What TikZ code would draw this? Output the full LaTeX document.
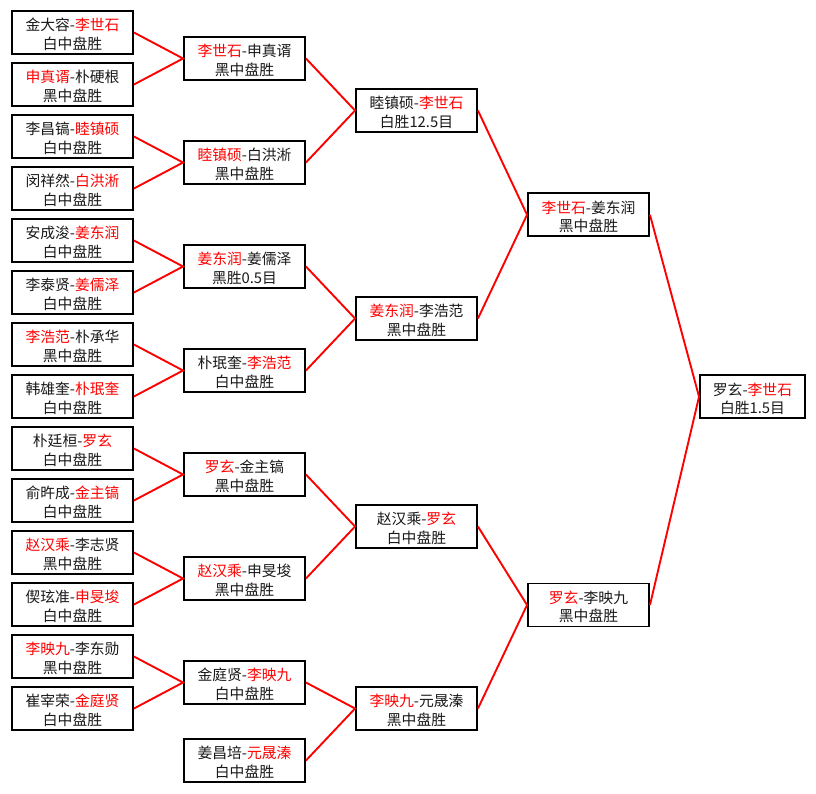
\documentclass[tikz,border=0pt]{standalone}
\usepackage{fontspec}
\setmainfont{Noto Sans CJK SC}
\newcommand{\winr}[1]{\textcolor{red}{#1}}
\newcommand{\twol}[2]{\raisebox{-4pt}[\height][\depth]{\begin{tabular}{@{}c@{}}#1\\#2\end{tabular}}}
\begin{document}
\begin{tikzpicture}[x=1pt,y=-1pt,
  res/.style={draw=black, line width=1.9pt, fill=white, minimum width=121pt,
    minimum height=43pt, inner sep=0pt,
    font=\fontsize{14.8pt}{18.5pt}\selectfont, text=black!90},
  link/.style={draw=red, line width=1.9pt}]
\useasboundingbox (0,0) rectangle (816,793);
% column 1
\node[res] (a0)  at (72.5, 32.5)  {\twol{金大容-\winr{李世石}}{白中盘胜}};
\node[res] (a1)  at (72.5, 84.5)  {\twol{\winr{申真谞}-朴硬根}{黑中盘胜}};
\node[res] (a2)  at (72.5,136.5)  {\twol{李昌镐-\winr{睦镇硕}}{白中盘胜}};
\node[res] (a3)  at (72.5,188.5)  {\twol{闵祥然-\winr{白洪淅}}{白中盘胜}};
\node[res] (a4)  at (72.5,240.5)  {\twol{安成浚-\winr{姜东润}}{白中盘胜}};
\node[res] (a5)  at (72.5,292.5)  {\twol{李泰贤-\winr{姜儒泽}}{白中盘胜}};
\node[res] (a6)  at (72.5,344.5)  {\twol{\winr{李浩范}-朴承华}{黑中盘胜}};
\node[res] (a7)  at (72.5,396.5)  {\twol{韩雄奎-\winr{朴珉奎}}{白中盘胜}};
\node[res] (a8)  at (72.5,448.5)  {\twol{朴廷桓-\winr{罗玄}}{白中盘胜}};
\node[res] (a9)  at (72.5,500.5)  {\twol{俞旿成-\winr{金主镐}}{白中盘胜}};
\node[res] (a10) at (72.5,552.5)  {\twol{\winr{赵汉乘}-李志贤}{黑中盘胜}};
\node[res] (a11) at (72.5,604.5)  {\twol{偰玹准-\winr{申旻埈}}{白中盘胜}};
\node[res] (a12) at (72.5,656.5)  {\twol{\winr{李映九}-李东勋}{黑中盘胜}};
\node[res] (a13) at (72.5,708.5)  {\twol{崔宰荣-\winr{金庭贤}}{白中盘胜}};
% column 2
\node[res] (b0) at (244.5, 58.5) {\twol{\winr{李世石}-申真谞}{黑中盘胜}};
\node[res] (b1) at (244.5,162.5) {\twol{\winr{睦镇硕}-白洪淅}{黑中盘胜}};
\node[res] (b2) at (244.5,266.5) {\twol{\winr{姜东润}-姜儒泽}{黑胜0.5目}};
\node[res] (b3) at (244.5,370.5) {\twol{朴珉奎-\winr{李浩范}}{白中盘胜}};
\node[res] (b4) at (244.5,474.5) {\twol{\winr{罗玄}-金主镐}{黑中盘胜}};
\node[res] (b5) at (244.5,578.5) {\twol{\winr{赵汉乘}-申旻埈}{黑中盘胜}};
\node[res] (b6) at (244.5,682.5) {\twol{金庭贤-\winr{李映九}}{白中盘胜}};
\node[res] (b7) at (244.5,760.5) {\twol{姜昌培-\winr{元晟溱}}{白中盘胜}};
% column 3
\node[res] (c0) at (416.5,110.5) {\twol{睦镇硕-\winr{李世石}}{白胜12.5目}};
\node[res] (c1) at (416.5,318.5) {\twol{\winr{姜东润}-李浩范}{黑中盘胜}};
\node[res] (c2) at (416.5,526.5) {\twol{赵汉乘-\winr{罗玄}}{白中盘胜}};
\node[res] (c3) at (416.5,708.5) {\twol{\winr{李映九}-元晟溱}{黑中盘胜}};
% column 4
\node[res] (d0) at (588.5,214.8) {\twol{\winr{李世石}-姜东润}{黑中盘胜}};
\node[res] (d1) at (588.5,605.0) {\twol{\winr{罗玄}-李映九}{黑中盘胜}};
% final
\node[res, minimum width=105pt] (e0) at (752.5,396.7) {\twol{罗玄-\winr{李世石}}{白胜1.5目}};
% connectors
\foreach \p/\x/\y in {b0/a0/a1, b1/a2/a3, b2/a4/a5, b3/a6/a7, b4/a8/a9, b5/a10/a11, b6/a12/a13,
                      c0/b0/b1, c1/b2/b3, c2/b4/b5, c3/b6/b7,
                      d0/c0/c1, d1/c2/c3, e0/d0/d1}{
  \draw[link] (\x.east) -- (\p.west) -- (\y.east);
}
\end{tikzpicture}
\end{document}
